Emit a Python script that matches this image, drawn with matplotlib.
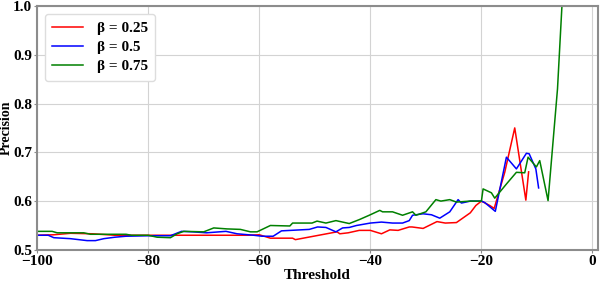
import matplotlib
matplotlib.use("Agg")
import matplotlib.pyplot as plt

# threshold / precision traces
x_b025 = [-100, -97, -94, -90, -86, -80, -70, -62, -60, -58, -54, -53.5, -46, -45.5,
          -44, -42, -40, -38, -36.5, -35, -33, -32.5, -30.5, -28, -26.5, -24.5, -22,
          -21, -20, -18.5, -17.7, -15.8, -14, -12, -11.5]
y_b025 = [0.530, 0.531, 0.534, 0.533, 0.530, 0.530, 0.530, 0.530, 0.531, 0.524, 0.524,
          0.521, 0.537, 0.533, 0.535, 0.540, 0.540, 0.533, 0.541, 0.540, 0.547, 0.547,
          0.544, 0.558, 0.555, 0.556, 0.576, 0.591, 0.600, 0.591, 0.585, 0.659, 0.750,
          0.602, 0.660]

x_b05 = [-100, -98, -97, -94, -91, -89.5, -88, -86, -84, -80, -76, -74, -72, -69.5,
         -66, -64, -61, -59.5, -57.5, -56, -51, -49.5, -48, -46.2, -45, -43.8, -42.5,
         -40, -38, -36, -34.2, -33, -32.4, -30.5, -29, -27.5, -25.7, -24.2, -23.6, -22,
         -20, -19.4, -17.5, -15.5, -13.7, -11.9, -11.4, -10.2, -9.7]
y_b05 = [0.530, 0.530, 0.525, 0.523, 0.519, 0.519, 0.523, 0.526, 0.528, 0.529, 0.529,
         0.538, 0.537, 0.535, 0.538, 0.533, 0.530, 0.528, 0.528, 0.539, 0.542, 0.547,
         0.546, 0.537, 0.545, 0.546, 0.550, 0.555, 0.557, 0.555, 0.555, 0.560, 0.571,
         0.574, 0.572, 0.565, 0.578, 0.603, 0.596, 0.600, 0.600, 0.597, 0.579, 0.690,
         0.666, 0.698, 0.697, 0.666, 0.627]

x_b075 = [-100, -97.3, -96.4, -91.6, -90.4, -84, -83, -80, -78.4, -76, -74.8, -73.6,
          -70, -68.2, -65.8, -63.4, -61.6, -60.4, -58, -54.5, -54, -50.5, -49.6, -48,
          -46.2, -43.8, -42, -40.2, -38.3, -37.8, -36, -34.2, -32.4, -31.8, -30, -28.2,
          -27.3, -25.7, -24.5, -22, -20, -19.7, -18.2, -17.6, -15.5, -13.7, -12.2,
          -11.6, -10.1, -9.5, -8, -6.3, -5.5]
y_b075 = [0.538, 0.538, 0.535, 0.535, 0.532, 0.532, 0.530, 0.530, 0.526, 0.525, 0.533,
          0.538, 0.537, 0.545, 0.543, 0.542, 0.537, 0.537, 0.550, 0.549, 0.555, 0.555,
          0.559, 0.555, 0.560, 0.554, 0.562, 0.571, 0.581, 0.578, 0.578, 0.571, 0.578,
          0.571, 0.578, 0.603, 0.600, 0.603, 0.598, 0.600, 0.600, 0.625, 0.617, 0.606,
          0.635, 0.659, 0.658, 0.690, 0.670, 0.683, 0.601, 0.830, 1.0]

plt.rcParams['font.family'] = ['Liberation Serif', 'DejaVu Serif']
plt.rcParams['font.weight'] = 'bold'

fig = plt.figure(figsize=(6.09, 2.83), dpi=100)
ax = fig.add_axes([0.061, 0.117, 0.921, 0.862])

ax.plot(x_b025, y_b025, color='r', lw=1.1, label='β = 0.25')
ax.plot(x_b05, y_b05, color='b', lw=1.1, label='β = 0.5')
ax.plot(x_b075, y_b075, color='g', lw=1.1, label='β = 0.75')

ax.set_xlim(-100, 1)
ax.set_ylim(0.5, 1.0)
ax.set_xticks([-100, -80, -60, -40, -20, 0])
ax.set_yticks([0.5, 0.6, 0.7, 0.8, 0.9, 1.0])
ax.grid(True, color='#d3d3d3', lw=0.8)
ax.set_axisbelow(True)

for s in ax.spines.values():
    s.set_color('#8c8c8c')
    s.set_linewidth(1.5)
ax.tick_params(length=2, color='#8c8c8c', labelsize=11, pad=1.5)
for lab in ax.get_xticklabels() + ax.get_yticklabels():
    lab.set_fontweight('bold')

ax.set_xlabel('Threshold', fontsize=11, fontweight='bold', labelpad=1)
ax.set_ylabel('Precision', fontsize=10, fontweight='bold')
ax.yaxis.set_label_coords(-0.043, 0.5)

ax.legend(loc='upper left', handlelength=2.0, borderpad=0.5,
          labelspacing=0.35, handletextpad=0.9, framealpha=1, edgecolor='#dddddd',
          prop={'weight': 'bold', 'size': 11})

fig.savefig('out.png', dpi=100)
